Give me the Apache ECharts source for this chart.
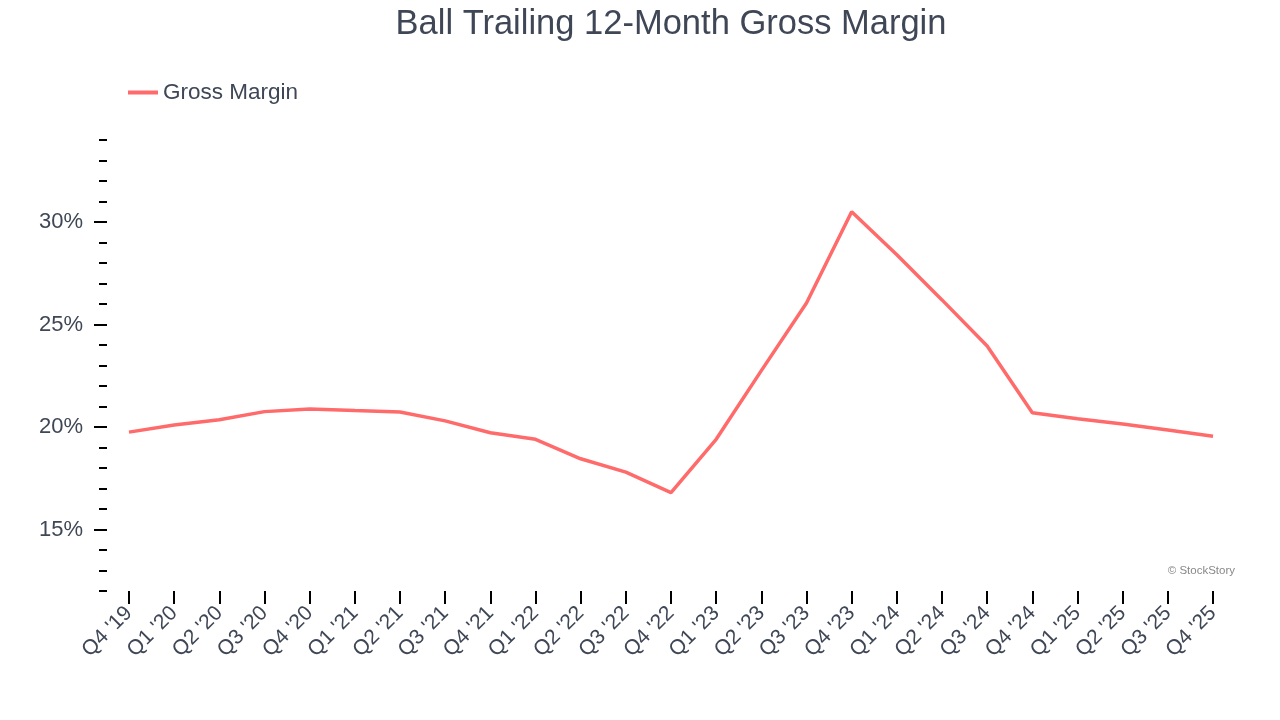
<!DOCTYPE html>
<html>
<head>
<meta charset="utf-8">
<script src="https://cdn.jsdelivr.net/npm/echarts@6/dist/echarts.min.js"></script>
<style>html,body{margin:0;padding:0;background:#fff}#c{width:1280px;height:720px}</style>
</head>
<body>
<div id="c"></div>
<script>
const categories = ["Q4 '19","Q1 '20","Q2 '20","Q3 '20","Q4 '20","Q1 '21","Q2 '21","Q3 '21","Q4 '21","Q1 '22","Q2 '22","Q3 '22","Q4 '22","Q1 '23","Q2 '23","Q3 '23","Q4 '23","Q1 '24","Q2 '24","Q3 '24","Q4 '24","Q1 '25","Q2 '25","Q3 '25","Q4 '25"];
const grossMargin = [19.75,20.1,20.35,20.75,20.88,20.8,20.73,20.3,19.72,19.4,18.45,17.8,16.8,19.4,22.75,26.05,30.5,28.4,26.2,23.95,20.7,20.4,20.15,19.85,19.55];
const majorTicks = [15,20,25,30];
const textColor = '#3f4756';
const font = 'Liberation Sans';
const chart = echarts.init(document.getElementById('c'));
chart.setOption({
  animation: false,
  backgroundColor: '#fff',
  title: {
    text: 'Ball Trailing 12-Month Gross Margin',
    left: 666, textAlign: 'center', top: 2,
    textStyle: {fontFamily: font, fontSize: 34.5, fontWeight: 'normal', color: textColor}
  },
  legend: {
    data: ['Gross Margin'], left: 123, top: 76,
    itemWidth: 30, itemHeight: 4, itemGap: 10,
    icon: 'rect',
    textStyle: {fontFamily: font, fontSize: 22.5, color: textColor}
  },
  graphic: [{
    type: 'text', right: 45, top: 565,
    style: {text: '© StockStory', fontFamily: font, fontSize: 11.5, fill: '#888'}
  }],
  grid: {left: 129, right: 67, top: 140, bottom: 129, containLabel: false},
  xAxis: {
    type: 'category', data: categories, boundaryGap: false,
    axisLine: {show: false},
    axisTick: {show: true, alignWithLabel: true, length: 13, lineStyle: {color: '#000', width: 2}},
    axisLabel: {rotate: 45, margin: 19, fontFamily: font, fontSize: 21, color: textColor, interval: 0},
    splitLine: {show: false}
  },
  yAxis: [{
    type: 'value', min: 12, max: 34, interval: 1, offset: 22,
    axisLine: {show: false},
    axisTick: {show: true, length: 8, lineStyle: {color: '#000', width: 2}},
    axisLabel: {show: false},
    splitLine: {show: false}
  }, {
    type: 'value', min: 12, max: 34, position: 'left', offset: 22,
    axisLine: {show: false},
    axisTick: {show: true, length: 13, customValues: majorTicks, lineStyle: {color: '#000', width: 2}},
    axisLabel: {show: true, customValues: majorTicks, margin: 24, fontFamily: font, fontSize: 22, color: textColor, formatter: v => v + '%'},
    splitLine: {show: false}
  }],
  series: [{
    name: 'Gross Margin', type: 'line', data: grossMargin, yAxisIndex: 0,
    showSymbol: false, symbol: 'none',
    lineStyle: {color: '#ff6b6b', width: 3.5},
    itemStyle: {color: '#ff6b6b'}
  }]
});
</script>
</body>
</html>
